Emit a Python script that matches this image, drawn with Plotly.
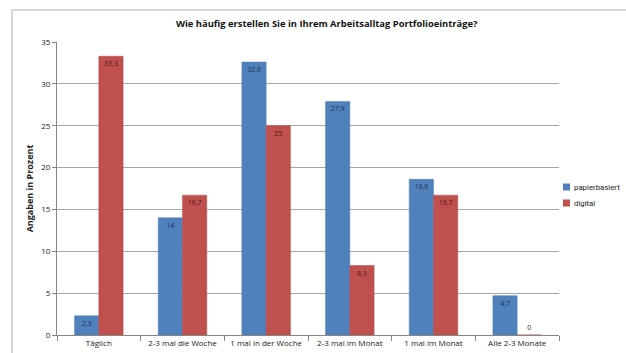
import plotly.graph_objects as go

categories = ["Täglich", "2-3 mal die Woche", "1 mal in der Woche", "2-3 mal im Monat", "1 mal im Monat", "Alle 2-3 Monate"]
papier = [2.3, 14, 32.6, 27.9, 18.6, 4.7]
digital = [33.3, 16.7, 25, 8.3, 16.7, 0]
y_ticks = [0, 5, 10, 15, 20, 25, 30, 35]
series_names = ["papierbasiert", "digital"]

BLUE = "#4F81BD"
RED = "#C0504D"

# plot-area pixel geometry (for paper-coordinate conversions)
L, R, T, B = 57, 559, 42, 335
W, H = R - L, B - T

def px_x(p):
    return (p - L) / W

def px_y(p):
    return (B - p) / H

def positions(vals):
    return ["outside" if v == 0 else "inside" for v in vals]

fig = go.Figure()
fig.add_trace(go.Bar(
    x=categories, y=papier, name=series_names[0],
    marker=dict(color=BLUE, line=dict(color="#4A7AB3", width=0.5)),
    text=papier, texttemplate="%{y}", textposition=positions(papier),
    insidetextanchor="end", constraintext="none",
    textfont=dict(size=7, color="#1F3050", family="Open Sans"),
))
fig.add_trace(go.Bar(
    x=categories, y=digital, name=series_names[1],
    marker=dict(color=RED, line=dict(color="#B54B48", width=0.5)),
    text=digital, texttemplate="%{y}", textposition=positions(digital),
    insidetextanchor="end", constraintext="none",
    textfont=dict(size=7, color="#4A1A18", family="Open Sans"),
))

shapes = [dict(type="rect", xref="paper", yref="paper",
               x0=px_x(12), x1=1.5, y0=-0.2, y1=px_y(10),
               line=dict(color="#B0B0B0", width=1), layer="below")]
annotations = []
for i, (name, col) in enumerate(zip(series_names, [BLUE, RED])):
    cy = 187 + 16 * i
    shapes.append(dict(type="rect", xref="paper", yref="paper",
                       x0=px_x(563), x1=px_x(570), y0=px_y(cy + 3.5), y1=px_y(cy - 3.5),
                       fillcolor=col, line=dict(width=0)))
    annotations.append(dict(text=name, xref="paper", yref="paper",
                            x=px_x(572), y=px_y(cy), xanchor="left", yanchor="middle",
                            showarrow=False,
                            font=dict(size=7.8, color="#222222", family="Roboto")))

fig.update_layout(
    width=626, height=353,
    margin=dict(l=L, r=626 - R, t=T, b=353 - B),
    paper_bgcolor="white", plot_bgcolor="white",
    separators=",.",
    barmode="group", bargap=0.42, bargroupgap=0,
    font=dict(family="Open Sans", size=8, color="#222222"),
    title=dict(text="<b>Wie häufig erstellen Sie in Ihrem Arbeitsalltag Portfolioeinträge?</b>",
               x=0.522, xanchor="center", y=1 - 24 / 353, yanchor="middle",
               font=dict(size=9.4, color="#111111")),
    showlegend=False,
    xaxis=dict(showline=True, linecolor="#868686", linewidth=1,
               ticks="outside", tickson="boundaries", ticklen=5, tickcolor="#868686",
               tickfont=dict(size=8), tickangle=0, showgrid=False, automargin=False),
    yaxis=dict(range=[0, 35], tickvals=y_ticks, showline=True, linecolor="#868686",
               ticks="outside", ticklen=4, tickcolor="#868686",
               gridcolor="#A6A6A6", gridwidth=1, zeroline=False,
               tickfont=dict(size=8), automargin=False,
               title=dict(text="<b>Angaben in Prozent</b>", font=dict(size=9), standoff=6)),
    shapes=shapes,
    annotations=annotations,
)

fig.write_html("out.html")
